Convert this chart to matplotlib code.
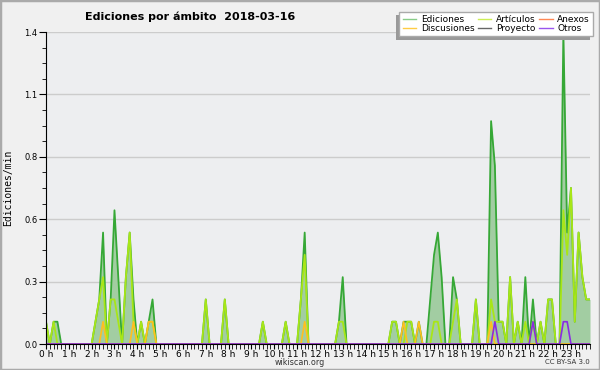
import numpy as np
import matplotlib
matplotlib.use("Agg")
import matplotlib.pyplot as plt
from matplotlib.lines import Line2D
from matplotlib.patches import Rectangle

# --- Data: edits per minute, in 10-minute buckets (one row = one hour) ---
minutes = np.arange(0, 1440, 10)

ediciones = [
    0.1, 0, 0.1, 0.1, 0, 0,          # 0 h
    0, 0, 0, 0, 0, 0,                # 1 h
    0, 0.1, 0.2, 0.5, 0, 0.2,        # 2 h
    0.6, 0.3, 0, 0.3, 0.5, 0.2,      # 3 h
    0, 0.1, 0, 0.1, 0.2, 0,          # 4 h
    0, 0, 0, 0, 0, 0,                # 5 h
    0, 0, 0, 0, 0, 0,                # 6 h
    0.2, 0, 0, 0, 0, 0.2,            # 7 h
    0, 0, 0, 0, 0, 0,                # 8 h
    0, 0, 0, 0.1, 0, 0,              # 9 h
    0, 0, 0, 0.1, 0, 0,              # 10 h
    0, 0.2, 0.5, 0, 0, 0,            # 11 h
    0, 0, 0, 0, 0, 0.1,              # 12 h
    0.3, 0, 0, 0, 0, 0,              # 13 h
    0, 0, 0, 0, 0, 0,                # 14 h
    0, 0.1, 0.1, 0, 0.1, 0.1,        # 15 h
    0.1, 0, 0.1, 0, 0, 0.2,          # 16 h
    0.4, 0.5, 0.3, 0, 0, 0.3,        # 17 h
    0.2, 0, 0, 0, 0, 0.2,            # 18 h
    0, 0, 0, 1.0, 0.8, 0.1,          # 19 h
    0.1, 0, 0.3, 0, 0.1, 0,          # 20 h
    0.3, 0, 0.2, 0, 0.1, 0,          # 21 h
    0.2, 0.2, 0, 0, 1.4, 0.5,        # 22 h
    0.7, 0.1, 0.5, 0.3, 0.2, 0.2,    # 23 h
]

articulos = [
    0.1, 0, 0.1, 0, 0, 0,
    0, 0, 0, 0, 0, 0,
    0, 0.1, 0.2, 0.3, 0, 0.2,
    0.2, 0.1, 0, 0.3, 0.5, 0.1,
    0, 0.1, 0, 0.1, 0.1, 0,
    0, 0, 0, 0, 0, 0,
    0, 0, 0, 0, 0, 0,
    0.2, 0, 0, 0, 0, 0.2,
    0, 0, 0, 0, 0, 0,
    0, 0, 0, 0.1, 0, 0,
    0, 0, 0, 0.1, 0, 0,
    0, 0.2, 0.4, 0, 0, 0,
    0, 0, 0, 0, 0, 0.1,
    0.1, 0, 0, 0, 0, 0,
    0, 0, 0, 0, 0, 0,
    0, 0.1, 0.1, 0, 0, 0.1,
    0.1, 0, 0, 0, 0, 0,
    0.1, 0.1, 0, 0, 0, 0.1,
    0.2, 0, 0, 0, 0, 0.2,
    0, 0, 0, 0.2, 0.1, 0.1,
    0.1, 0, 0.3, 0, 0.1, 0,
    0.1, 0, 0.1, 0, 0.1, 0,
    0.2, 0.2, 0, 0, 0.6, 0.4,
    0.7, 0.1, 0.5, 0.3, 0.2, 0.2,
]

discusiones = [
    0, 0, 0, 0, 0, 0,
    0, 0, 0, 0, 0, 0,
    0, 0, 0, 0.1, 0, 0,
    0, 0, 0, 0, 0, 0.1,
    0, 0, 0, 0.1, 0.1, 0,
    0, 0, 0, 0, 0, 0,
    0, 0, 0, 0, 0, 0,
    0, 0, 0, 0, 0, 0,
    0, 0, 0, 0, 0, 0,
    0, 0, 0, 0, 0, 0,
    0, 0, 0, 0, 0, 0,
    0, 0, 0.1, 0, 0, 0,
    0, 0, 0, 0, 0, 0,
    0, 0, 0, 0, 0, 0,
    0, 0, 0, 0, 0, 0,
    0, 0, 0, 0, 0.1, 0,
    0, 0, 0.1, 0, 0, 0,
    0, 0, 0, 0, 0, 0,
    0, 0, 0, 0, 0, 0,
    0, 0, 0, 0.1, 0, 0,
    0, 0, 0, 0, 0, 0,
    0, 0, 0, 0, 0, 0,
    0, 0, 0, 0, 0, 0,
    0, 0, 0, 0, 0, 0,
]

otros = [0] * 144
for idx in (118, 128, 136, 137):
    otros[idx] = 0.1

anexos = [0] * 144
proyecto = [0] * 144

hours = list(range(24))
hour_labels = [f"{h} h" for h in hours]

# --- Plot ---
t = minutes / 60
fig = plt.figure(figsize=(6, 3.7), dpi=100, facecolor="#f0f0f0")
ax = fig.add_axes([46 / 600, 26 / 370, 544 / 600, 312 / 370])
ax.set_facecolor("#edeef0")

ax.fill_between(t, 0, ediciones, color="#a2cda2", lw=0, zorder=1)
ax.plot(t, anexos, color="#ff7f40", lw=1, zorder=1.2)
ax.plot(t, proyecto, color="#555555", lw=1, zorder=1.2)
ax.plot(t, ediciones, color="#36a836", lw=1.3, zorder=2)
ax.plot(t, articulos, color="#a8e617", lw=1.3, zorder=2.1)
ax.plot(t, discusiones, color="#ffbf1f", lw=1.2, zorder=2.2)
ax.plot(t, otros, color="#8a2be2", lw=1.2, zorder=2.3)

ax.set_xlim(0, t[-1])
ax.set_ylim(0, 1.4)
ax.set_xticks(hours)
ax.set_xticklabels(hour_labels)
ax.set_xticks(t, minor=True)
yt = np.linspace(0, 1.4, 6)
ax.set_yticks(yt)
ax.set_yticklabels([f"{v:.1f}" for v in yt])
ax.set_yticks(np.linspace(0, 1.4, 21), minor=True)
ax.tick_params(axis="x", which="both", length=3.5, labelsize=6.5, pad=0.5)
ax.tick_params(axis="y", which="major", length=5, labelsize=6, pad=1)
ax.tick_params(axis="y", which="minor", length=3)
ax.yaxis.grid(True, color="#cccccc", lw=1)
ax.set_axisbelow(True)
for s in ("top", "right"):
    ax.spines[s].set_visible(False)
ax.spines["left"].set_zorder(3)
ax.spines["bottom"].set_zorder(3)

ax.set_ylabel("Ediciones/min", family="DejaVu Sans Mono", fontsize=7)
ax.yaxis.set_label_coords(-0.06, 0.5)

fig.text(85 / 600, 1 - 17 / 370, "Ediciones por ámbito  2018-03-16",
         fontsize=8, fontweight="bold", va="center")
fig.text(300 / 600, 1 - 362.5 / 370, "wikiscan.org", fontsize=5.8,
         ha="center", va="center", color="#333333")
fig.text(590 / 600, 1 - 362.5 / 370, "CC BY-SA 3.0", fontsize=5,
         ha="right", va="center", color="#333333")

handles = [
    Line2D([], [], color="#88cc88", lw=1),
    Line2D([], [], color="#ffcc44", lw=1),
    Line2D([], [], color="#ccee55", lw=1),
    Line2D([], [], color="#666666", lw=1),
    Line2D([], [], color="#ff8855", lw=1),
    Line2D([], [], color="#9955ee", lw=1),
]
names = ["Ediciones", "Discusiones", "Artículos", "Proyecto", "Anexos", "Otros"]
leg = fig.legend(handles, names, loc="upper right", ncol=3,
                 bbox_to_anchor=(593 / 600, 1 - 11.7 / 370), borderaxespad=0,
                 fontsize=6.5, frameon=True, fancybox=False, framealpha=1,
                 facecolor="white", edgecolor="#aaaaaa",
                 handlelength=1.5, handletextpad=0.5, columnspacing=0.4,
                 labelspacing=0.05, borderpad=0.35)
leg.get_frame().set_linewidth(1)

fig.canvas.draw()
bb = leg.get_window_extent().transformed(fig.transFigure.inverted())
fig.patches.append(Rectangle((bb.x0 - 3.3 / 600, bb.y0 - 3.3 / 370), bb.width, bb.height,
                             transform=fig.transFigure, fc="#999999", ec="none",
                             zorder=4))
fig.patches.append(Rectangle((0, 0), 1, 1, transform=fig.transFigure, fill=False,
                             ec="#aaaaaa", lw=2.5, zorder=10))

fig.savefig("out.png", dpi=100, facecolor=fig.get_facecolor())
